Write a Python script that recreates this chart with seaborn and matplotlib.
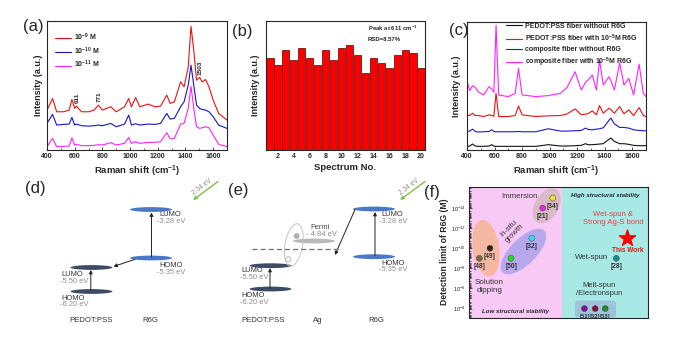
import numpy as np
import seaborn as sns
import matplotlib.pyplot as plt
import matplotlib.transforms as mtransforms
from matplotlib.patches import Ellipse, FancyArrowPatch, FancyBboxPatch, Circle
from matplotlib.ticker import MultipleLocator, LogLocator, NullFormatter

W, H = 685, 349

# ---- (a) SERS spectra of R6G at three concentrations
a_shift = [400, 440, 470, 520, 560, 580, 600, 611, 650, 700, 740, 771, 800, 860,
           900, 960, 990, 1010, 1040, 1070, 1130, 1180, 1220, 1265, 1290, 1320,
           1365, 1390, 1420, 1440, 1460, 1480, 1503, 1520, 1545, 1570, 1600, 1640, 1700]
a_1e9 = [115, 150, 110, 110, 115, 147, 120, 127, 110, 110, 115, 130, 115, 125,
         110, 125, 150, 125, 153, 125, 133, 125, 127, 160, 135, 140,
         200, 185, 245, 367, 295, 205, 213, 200, 207, 185, 145, 105, 85]
a_1e10 = [75, 102, 70, 72, 73, 93, 70, 73, 68, 67, 68, 70, 68, 75,
          65, 73, 100, 70, 74, 70, 73, 72, 75, 105, 88, 90,
          125, 140, 190, 250, 190, 130, 120, 117, 115, 110, 95, 70, 60]
a_1e11 = [5, 30, 5, 6, 7, 32, 10, 12, 8, 8, 9, 11, 10, 17,
          10, 15, 33, 15, 20, 15, 18, 18, 20, 47, 28, 30,
          73, 75, 120, 187, 120, 65, 60, 62, 65, 62, 40, 12, 5]
a_labels = ['10$^{-9}$ M', '10$^{-10}$ M', '10$^{-11}$ M']
a_peaks = [611, 771, 1503]

# ---- (b) intensity of the 611 cm-1 peak over 20 spectra
b_spectrum = list(range(1, 21))
b_intensity = [277, 255, 300, 270, 308, 277, 255, 300, 270, 308,
               316, 285, 232, 277, 262, 247, 285, 300, 292, 247]
b_notes = ['Peak at 611 cm$^{-1}$', 'RSD=8.57%']

# ---- (c) control spectra
c_shift = [400, 420, 440, 460, 480, 520, 560, 580, 595, 611, 630, 700, 750, 774,
           800, 900, 990, 1080, 1127, 1185, 1230, 1260, 1280, 1310, 1340, 1362,
           1390, 1430, 1445, 1470, 1509, 1540, 1575, 1610, 1650, 1680, 1700]
c_pedot = [7, 8, 14, 8, 7, 7, 8, 12, 8, 7, 7, 7, 7, 7,
           7, 7, 12, 8, 8, 9, 10, 15, 12, 12, 13, 14,
           15, 28, 32, 22, 15, 15, 13, 10, 9, 9, 9]
c_pedot_r6g = [102, 100, 107, 100, 100, 97, 102, 100, 98, 167, 97, 97, 100, 129,
               102, 97, 99, 100, 105, 120, 102, 104, 106, 114, 102, 130,
               107, 122, 118, 107, 127, 105, 117, 100, 124, 100, 97]
c_comp = [52, 53, 59, 52, 50, 51, 52, 57, 52, 51, 51, 51, 51, 52,
          51, 51, 60, 53, 53, 54, 55, 62, 58, 57, 59, 60,
          63, 85, 92, 75, 64, 64, 62, 57, 55, 54, 54]
c_comp_r6g = [202, 175, 190, 185, 172, 162, 187, 180, 170, 372, 162, 157, 167, 242,
              162, 157, 160, 167, 185, 232, 177, 200, 207, 222, 177, 267,
              192, 217, 205, 177, 259, 192, 212, 162, 255, 167, 157]
c_labels = ['PEDOT:PSS fiber without R6G', 'PEDOT:PSS fiber with 10$^{-5}$M R6G',
            'composite fiber without R6G', 'composite fiber with 10$^{-5}$M R6G']

# ---- (d)/(e) energy levels in eV
pedot_lumo, pedot_homo = -5.50, -6.20
r6g_lumo, r6g_homo = -3.28, -5.35
ag_fermi = -4.84
laser_ev = 2.34

# ---- (f) detection limits reported for fibre SERS substrates
f_refs = ['[48]', '[49]', '[50]', '[32]', '[21]', '[34]', '[28]', '[51]', '[52]', '[53]']
f_xpos = [0.058, 0.117, 0.235, 0.351, 0.412, 0.468, 0.823, 0.645, 0.705, 0.761]
f_limit = [1e-9, 1e-10, 1e-9, 1e-11, 1e-14, 1e-15, 1e-9, 1e-4, 1e-4, 1e-4]
f_colors = ['#7b6a48', '#2e2110', '#22dd22', '#33ddf2', '#ee22dd', '#e8e822',
            '#149090', '#8a0a9a', '#8a1030', '#228b22']
this_work_x, this_work_limit = 0.882, 1e-11
f_exps = [-14, -12, -10, -8, -6, -4]

sns.set_style('ticks')
plt.rcParams['font.family'] = ['Liberation Sans', 'DejaVu Sans']
plt.rcParams['mathtext.default'] = 'regular'
plt.rcParams['axes.linewidth'] = 0.8

fig = plt.figure(figsize=(W / 100, H / 100), dpi=100)
px = mtransforms.Affine2D().scale(1 / W, -1 / H).translate(0, 1) + fig.transFigure


def box(l, t, r, b):
    return [l / W, 1 - b / H, (r - l) / W, (b - t) / H]


def ptext(x, y, s, **kw):
    kw.setdefault('ha', 'center')
    kw.setdefault('va', 'center')
    fig.text(x, y, s, transform=px, **kw)


def spectrum_axes(ax):
    ax.set_xlim(400, 1700)
    ax.xaxis.set_major_locator(MultipleLocator(200))
    ax.xaxis.set_minor_locator(MultipleLocator(100))
    ax.set_xticks(range(400, 1700, 200), [str(v) for v in range(400, 1700, 200)],
                  fontweight='bold')
    ax.set_yticks([])
    ax.tick_params(axis='x', which='both', direction='in', labelsize=5, pad=2.5)
    ax.tick_params(axis='x', which='major', length=2.5, width=0.6)
    ax.tick_params(axis='x', which='minor', length=1.5, width=0.5)
    ax.set_xlabel('Raman shift (cm$^{-1}$)', fontsize=6.8, fontweight='bold', labelpad=2)
    ax.set_ylabel('Intensity (a.u.)', fontsize=6.5, fontweight='bold', labelpad=3)


leg_kw = dict(frameon=False, prop={'size': 5, 'weight': 'bold'}, handlelength=2.3,
              handletextpad=0.4, labelspacing=0.38, borderpad=0, borderaxespad=0)

# (a)
ax_a = fig.add_axes(box(47, 21, 227, 150))
for ys, col, lab in zip([a_1e9, a_1e10, a_1e11], ['#ee1111', '#1515cc', '#ff22ff'], a_labels):
    sns.lineplot(x=a_shift, y=ys, ax=ax_a, color=col, lw=0.8, label=lab, errorbar=None)
ax_a.set_ylim(-5, 383)
spectrum_axes(ax_a)
ax_a.legend(loc='upper left', bbox_to_anchor=(0.044, 0.92), **leg_kw)
for pk in a_peaks:
    y = a_1e9[a_shift.index(pk)]
    ax_a.text(pk + 6, y + 8, str(pk), rotation=90, ha='center', va='bottom',
              fontsize=4.6, fontweight='bold')

# (b)
ax_b = fig.add_axes(box(266, 21, 425, 150))
sns.barplot(x=b_spectrum, y=b_intensity, ax=ax_b, native_scale=True, color='#ff0000',
            saturation=1, width=0.9, edgecolor='#5a0000', linewidth=0.5)
ax_b.set_xlim(0.5, 20.5)
ax_b.set_ylim(0, 388)
ax_b.set_xticks(range(2, 21, 2), [str(v) for v in range(2, 21, 2)], fontweight='bold')
ax_b.xaxis.set_minor_locator(MultipleLocator(1))
ax_b.set_yticks([])
ax_b.tick_params(axis='x', which='both', direction='in', labelsize=5, pad=2.5)
ax_b.tick_params(axis='x', which='major', length=2.5, width=0.6)
ax_b.tick_params(axis='x', which='minor', length=1.5, width=0.5)
ax_b.set_xlabel('Spectrum No.', fontsize=6.8, fontweight='bold', labelpad=2)
ax_b.set_ylabel('Intensity (a.u.)', fontsize=6.5, fontweight='bold', labelpad=4)
ptext(367.7, 28.5, b_notes[0], ha='left', fontsize=4.3, fontweight='bold')
ptext(367.7, 39.5, b_notes[1], ha='left', fontsize=4.3, fontweight='bold')

# (c)
ax_c = fig.add_axes(box(467, 22, 646, 150))
for ys, col, lab in zip([c_pedot, c_pedot_r6g, c_comp, c_comp_r6g],
                        ['#111111', '#ee1111', '#1a1acc', '#ff22ff'], c_labels):
    sns.lineplot(x=c_shift, y=ys, ax=ax_c, color=col, lw=0.8, label=lab, errorbar=None)
ax_c.set_ylim(-4, 382)
spectrum_axes(ax_c)
ax_c.set_ylabel('Intensity (a.u.)', fontsize=6.5, fontweight='bold', labelpad=4)
ax_c.legend(loc='upper left', bbox_to_anchor=(0.218, 0.995), **leg_kw)

# panel letters
for s, x, y in [('(a)', 33.5, 26), ('(b)', 242, 31.5), ('(c)', 459, 31),
                ('(d)', 35, 189), ('(e)', 238.7, 190.5), ('(f)', 432, 192.5)]:
    ptext(x, y, s, fontsize=12)

# (d)/(e) energy diagrams
dark, blue, grey = '#3e4b64', '#4a78c8', '#8c8c8c'


def level(cx, cy, color):
    fig.add_artist(Ellipse((cx, cy), 42, 4.8, color=color, transform=px, lw=0))


def arrow(p0, p1, color='#222222', lw=0.7, ms=5):
    fig.add_artist(FancyArrowPatch(p0, p1, arrowstyle='-|>', mutation_scale=ms, lw=lw,
                                   color=color, transform=px, shrinkA=0, shrinkB=0))


def level_text(x, y, name, ev):
    ptext(x, y, name, ha='left', fontsize=5.4, color='#333333')
    ptext(x - 1.8, y + 6.5, f'{ev:.2f} eV', ha='left', fontsize=5.4, color=grey)


def laser(x0, y0):
    arrow((x0, y0), (x0 - 25, y0 + 18.5), color='#7dc243', lw=1.0, ms=5)
    ptext(x0 - 15.5, y0 + 5.5, f'{laser_ev} eV', rotation=37, fontsize=4.8, color=grey)


# (d)
level(151, 209.5, blue)
level(151, 258, blue)
level(91.5, 267.5, dark)
level(91.5, 291.5, dark)
arrow((151.5, 257), (151.5, 212.5))
arrow((90.8, 290.5), (90.8, 270))
arrow((135, 259.3), (113.5, 266.5))
level_text(159.3, 215, 'LUMO', r6g_lumo)
level_text(159.3, 265.7, 'HOMO', r6g_homo)
level_text(61.7, 275, 'LUMO', pedot_lumo)
level_text(61.7, 298.3, 'HOMO', pedot_homo)
ptext(91.3, 320.7, 'PEDOT:PSS', fontsize=5.6, color='#333333')
ptext(150.5, 320.7, 'R6G', fontsize=5.6, color='#333333')
laser(218, 181.5)

# (e)
level(374, 209, blue)
level(374, 256.7, blue)
level(314, 241, '#b9b9b9')
level(270.5, 265.7, dark)
level(270.5, 289, dark)
fig.add_artist(plt.Line2D([252, 340], [249, 249], color='#707070', lw=0.9, ls=(0, (4, 2.5)),
                          transform=px))
fig.add_artist(Ellipse((293.8, 245), 17.5, 43, angle=10, fill=False, ec='#c4c4c4',
                       lw=0.7, transform=px))
fig.add_artist(Circle((296.7, 236), 2.2, color='#b0b0b0', transform=px))
fig.add_artist(Circle((288.4, 259.3), 2.6, fill=False, ec='#b0b0b0', lw=0.6, transform=px))
arrow((375, 256), (375, 212))
arrow((270, 288), (270, 268))
arrow((355, 209.5), (335, 255))
level_text(381, 215, 'LUMO', r6g_lumo)
level_text(381, 263.3, 'HOMO', r6g_homo)
level_text(241.7, 270.7, 'LUMO', pedot_lumo)
level_text(241.7, 295.7, 'HOMO', pedot_homo)
ptext(320.3, 227.7, 'Fermi', fontsize=5.4, color='#444444')
ptext(321, 234.3, f'- {abs(ag_fermi):.2f} eV', fontsize=5.4, color=grey)
ptext(263.3, 320, 'PEDOT:PSS', fontsize=5.6, color='#333333')
ptext(317.3, 320, 'Ag', fontsize=5.6, color='#333333')
ptext(376.7, 320, 'R6G', fontsize=5.6, color='#333333')
laser(425, 181.5)

# (f)
ax_f = fig.add_axes(box(469, 187, 648, 318))
ax_f.set_yscale('log')
ax_f.set_xlim(0, 1)
ax_f.set_ylim(10 ** -3.06, 10 ** -16.1)
ax_f.axvspan(0, 0.522, color='#f9c9f6', lw=0, zorder=0)
ax_f.axvspan(0.522, 1, color='#a8e9e5', lw=0, zorder=0)
for (cx, cy), w, h, ang, col in [((486, 248.3), 26.5, 57, -8, '#f6b8a2'),
                                 ((523.5, 251.5), 59, 26, -45, '#b7a8ee'),
                                 ((546.7, 205.8), 38, 24, -60, '#d8bac8')]:
    ax_f.add_patch(Ellipse((cx, cy), w, h, angle=ang, color=col, lw=0, transform=px, zorder=1))
ax_f.add_patch(FancyBboxPatch((575, 300.5), 41, 17, boxstyle='round,pad=0,rounding_size=3',
                              color='#9ec4da', lw=0, transform=px, zorder=1))
sns.scatterplot(x=f_xpos, y=f_limit, hue=f_refs, palette=f_colors, s=18, ax=ax_f,
                edgecolor='#333333', linewidth=0.3, legend=False, zorder=3)
sns.scatterplot(x=[this_work_x], y=[this_work_limit], marker='*', s=150, color='#ff0000',
                edgecolor='#ff0000', ax=ax_f, legend=False, zorder=3)
for ref, x, y in zip(f_refs, f_xpos, f_limit):
    ax_f.annotate(ref, (x, y), xytext=(0, -5.8), textcoords='offset points', ha='center',
                  va='center', fontsize=4.8 if y < 1e-5 else 4.2, fontweight='bold',
                  color='#333333')
ax_f.annotate('This Work', (this_work_x, this_work_limit), xytext=(1, -9), textcoords='offset points',
              ha='center', va='center', fontsize=4.7, fontweight='bold', color='#ee1111')
ax_f.set_xticks([])
ax_f.set_yticks([10.0 ** e for e in f_exps], [f'10$^{{{e}}}$' for e in f_exps])
ax_f.yaxis.set_minor_locator(LogLocator(base=10, subs=np.arange(2, 10), numticks=200))
ax_f.yaxis.set_minor_formatter(NullFormatter())
ax_f.tick_params(axis='y', which='both', direction='in', labelsize=4, pad=2.5, width=0.5)
ax_f.tick_params(axis='y', which='major', length=2)
ax_f.tick_params(axis='y', which='minor', length=1.2)
ptext(445, 252, 'Detection limit of R6G (M)', rotation=90, fontsize=6.2, fontweight='bold')
ptext(519.3, 196, 'Immersion', fontsize=5.6, color='#333333')
ptext(511.5, 231, 'In-situ\ngrowth', rotation=45, fontsize=5.6, color='#333333', linespacing=1.0)
ptext(489.5, 286.5, 'Solution\ndipping', fontsize=5.8, color='#333333', linespacing=1.15)
ptext(605, 196, 'High structural stability', fontsize=4.4, fontweight='bold',
      style='italic', color='#1c2633')
ptext(516, 312, 'Low structural stability', fontsize=4.4, fontweight='bold',
      style='italic', color='#1c2633')
ptext(613.3, 218.5, 'Wet-spun &\nStrong Ag-S bond', fontsize=5.5, color='#e04545',
      linespacing=1.15)
ptext(591.7, 257.3, 'Wet-spun', fontsize=5.6, color='#333333')
ptext(599, 289.7, 'Melt-spun\n/Electronspun', fontsize=5.4, color='#333333', linespacing=1.15)

fig.savefig('out.png', dpi=100)
